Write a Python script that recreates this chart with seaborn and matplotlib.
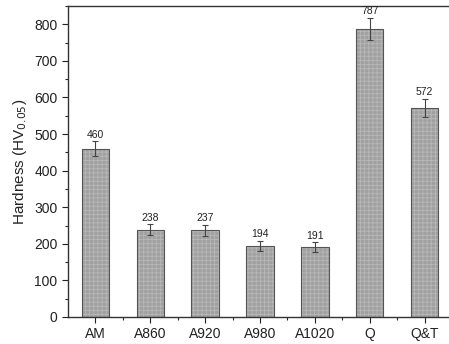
import matplotlib
matplotlib.use("Agg")
import matplotlib.pyplot as plt
import seaborn as sns
import pandas as pd
import numpy as np
from matplotlib.ticker import MultipleLocator

categories = ["AM", "A860", "A920", "A980", "A1020", "Q", "Q&T"]
hardness = [460, 238, 237, 194, 191, 787, 572]
errors = [20, 15, 15, 14, 13, 30, 25]

sns.set_theme(style="ticks")
plt.rcParams['font.family'] = ['Liberation Sans', 'DejaVu Sans']
plt.rcParams['hatch.linewidth'] = 0.6

df = pd.DataFrame({"cat": categories, "hv": hardness})

fig = plt.figure(figsize=(4.49, 3.44), dpi=100)
ax = fig.add_axes([68/449, (344-317)/344, (452-68)/449, (317-6)/344])

# fill with fine light checker hatch
sns.barplot(data=df, x="cat", y="hv", ax=ax, color="#a0a0a0", width=0.5,
            saturation=1, edgecolor="#b8b8b8", linewidth=0, errorbar=None,
            hatch='++++')
# outline
sns.barplot(data=df, x="cat", y="hv", ax=ax, fill=False, width=0.5,
            edgecolor="#555555", linewidth=0.8, errorbar=None)

xs = np.arange(len(categories))
ax.errorbar(xs, hardness, yerr=errors, fmt='none', ecolor='#444444',
            elinewidth=0.8, capsize=2.5, capthick=0.8)
for x, v, e in zip(xs, hardness, errors):
    ax.text(x, v + e + 5, str(v), ha='center', va='bottom', fontsize=7.5, color='#222222')

ax.set_xlim(-0.5, 6.5)
ax.set_ylim(0, 850)
ax.yaxis.set_major_locator(MultipleLocator(100))
ax.yaxis.set_minor_locator(MultipleLocator(50))
ax.set_xticks(xs)
ax.set_xticks(xs[:-1] + 0.5, minor=True)
ax.tick_params(axis='both', which='major', direction='out', length=4, width=0.8,
               labelsize=10, colors='#222222')
ax.tick_params(axis='both', which='minor', direction='out', length=2.5, width=0.8)
ax.set_xlabel("")
ax.set_ylabel("Hardness (HV$_{0.05}$)", fontsize=11, color='#222222')
for s in ax.spines.values():
    s.set_linewidth(1.0)
    s.set_color('#333333')

fig.savefig("out.png", dpi=100)
